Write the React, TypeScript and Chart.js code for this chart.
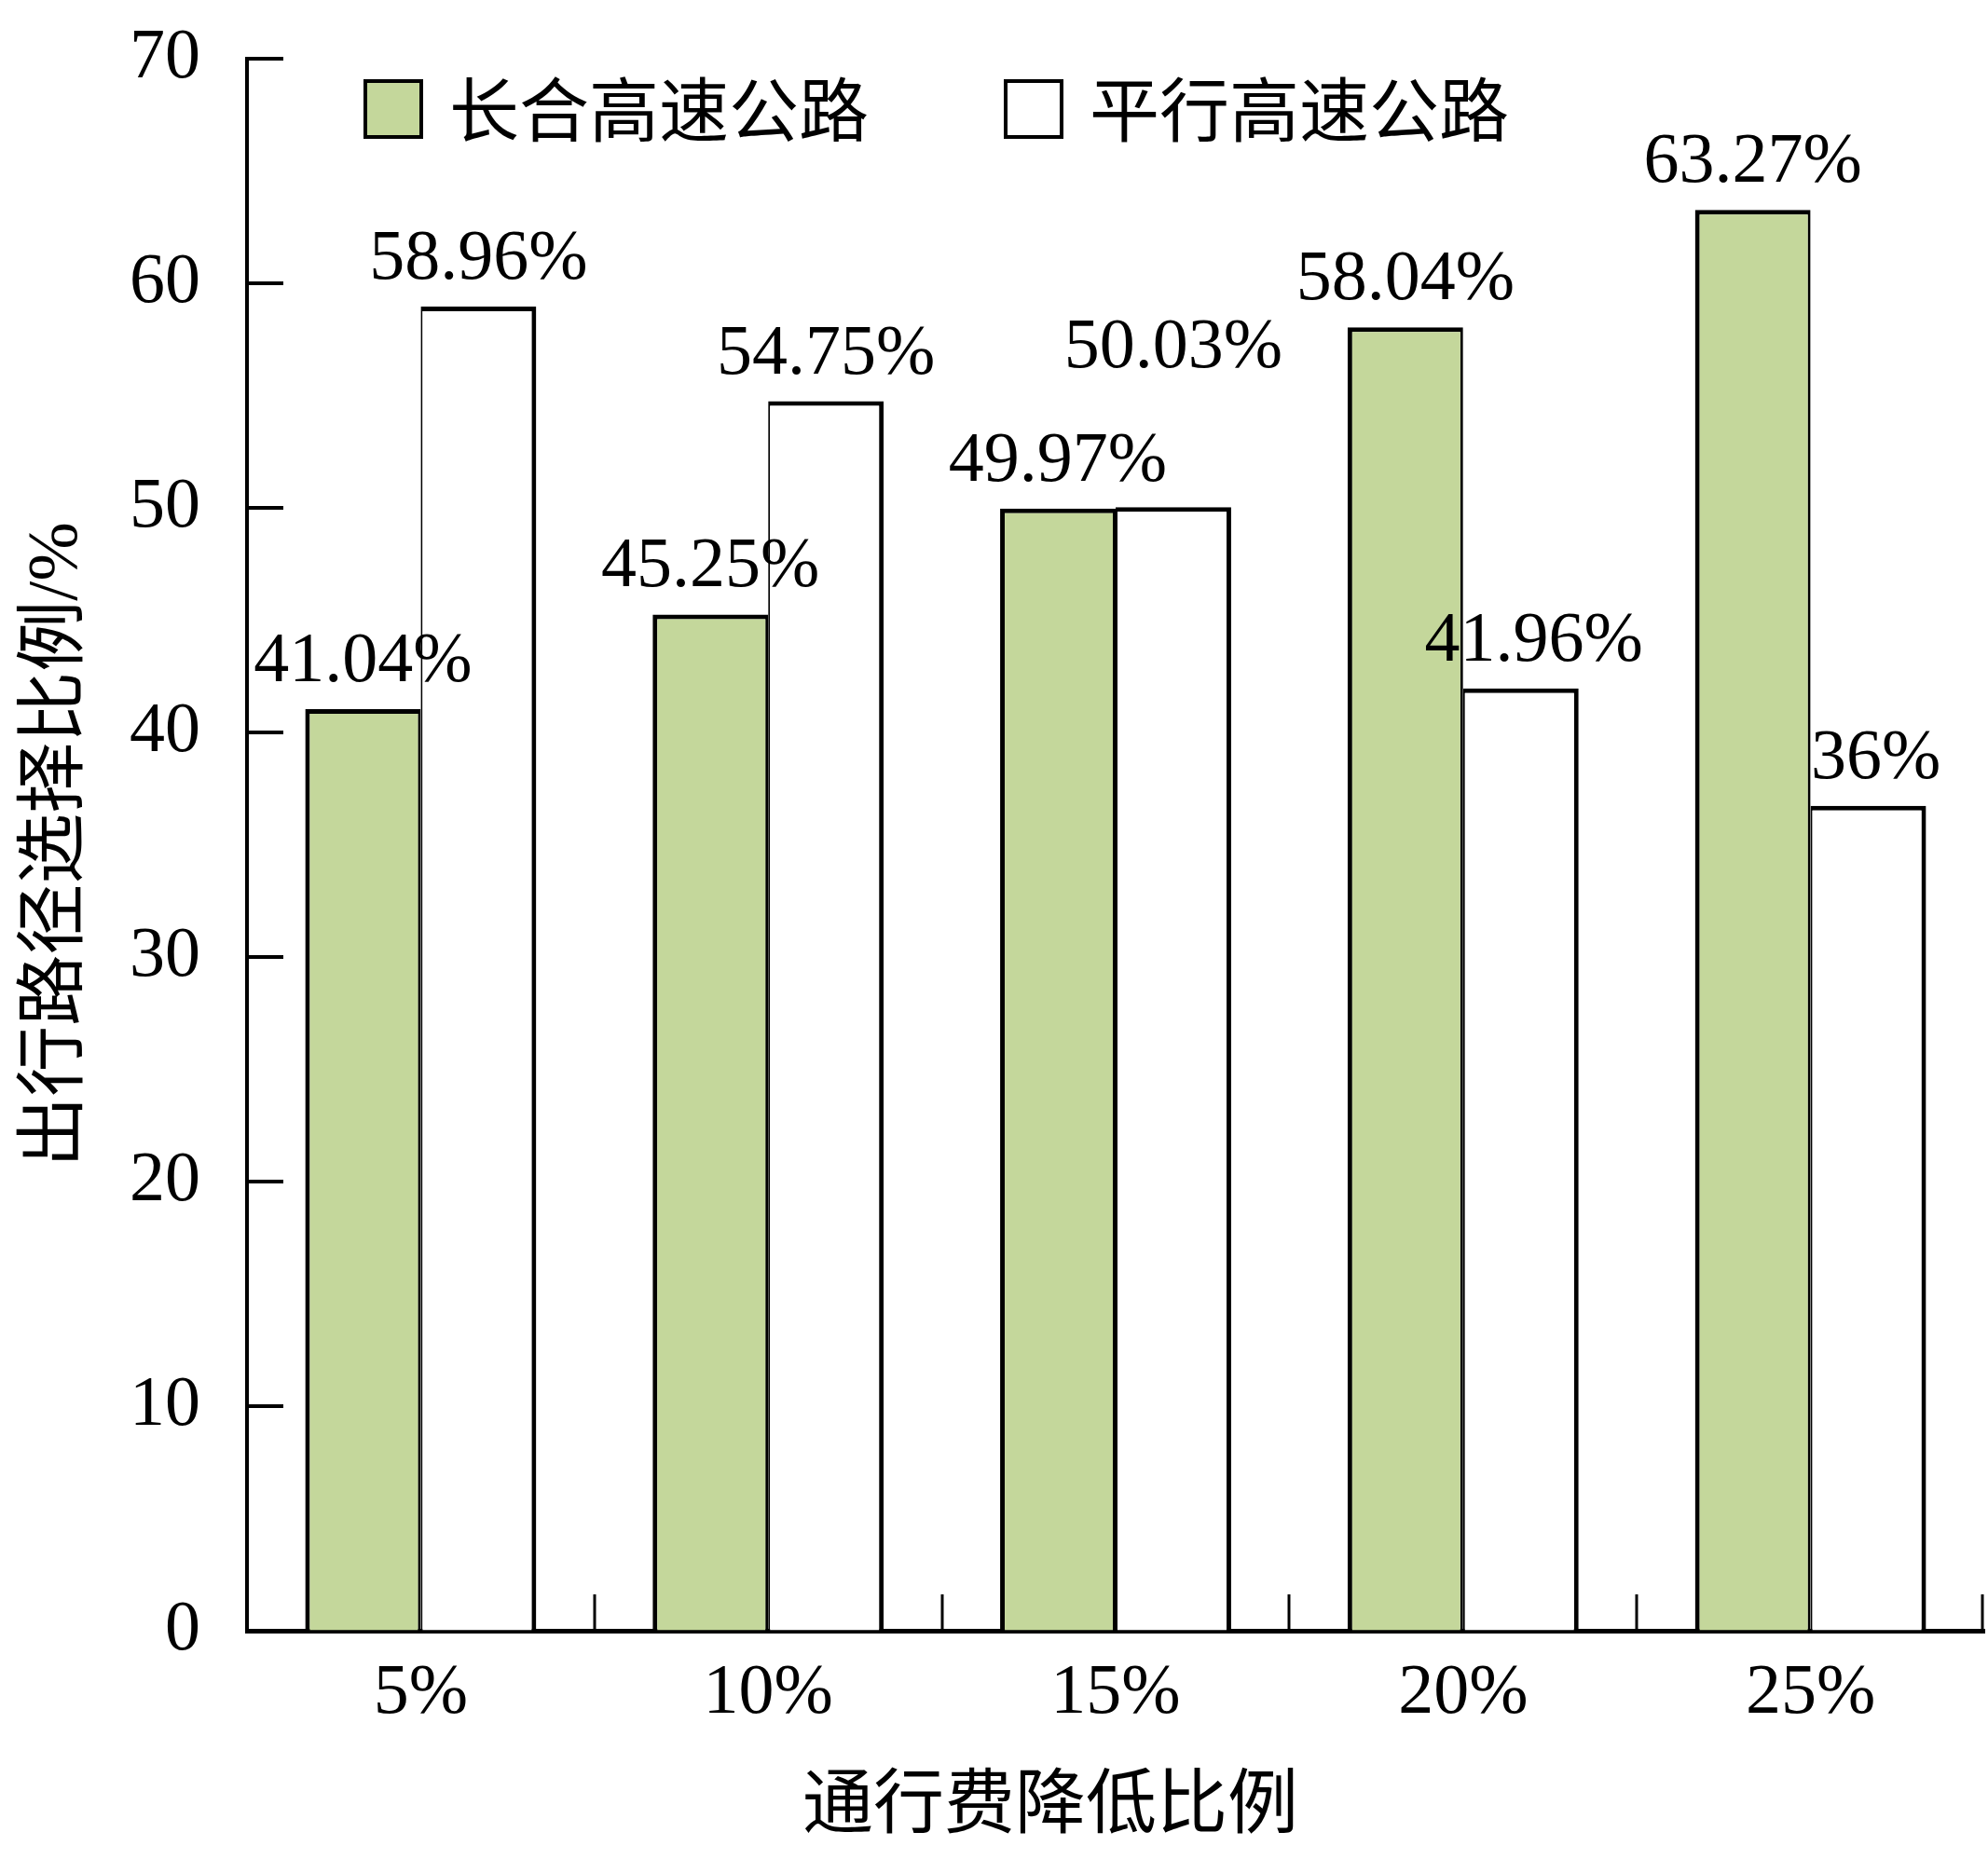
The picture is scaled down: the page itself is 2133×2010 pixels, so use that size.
import React, { useEffect, useRef } from "react";
import { Chart, registerables } from "chart.js";

Chart.register(...registerables);

// ---- data ----
const categories = ["5%", "10%", "15%", "20%", "25%"];
const seriesNames = ["长合高速公路", "平行高速公路"];
const changheValues = [41.04, 45.25, 49.97, 58.04, 63.27];
const parallelValues = [58.96, 54.75, 50.03, 41.96, 36.73];
const changheLabels = ["41.04%", "45.25%", "49.97%", "58.04%", "63.27%"];
const parallelLabels = ["58.96%", "54.75%", "50.03%", "41.96%", "36%"];
const yMin = 0;
const yMax = 70;
const yStep = 10;
const xTitle = "通行费降低比例";
const yTitle = "出行路径选择比例/%";

// ---- styles ----
const W = 2133;
const H = 2010;
const GREEN = "#C4D79B";
const NUM_FONT = "'Liberation Serif', 'Times New Roman', serif";
const CJK_FONT = "'Noto Sans CJK SC', 'Noto Sans CJK JP', sans-serif";
const MIX_FONT = "'Liberation Serif', 'Noto Sans CJK SC', serif";

const labelTexts = [changheLabels, parallelLabels];
// per-label nudges (dataset, index) -> [dx, extra lift]
const labelNudge: Record<string, [number, number]> = {
  "1-2": [0, 120],
  "1-3": [14, 0],
  "1-4": [8, 0],
};

const decorPlugin = {
  id: "decor",
  afterDatasetsDraw(chart: any) {
    const { ctx, chartArea, scales } = chart;
    const xs = scales.x;
    const ys = scales.y;
    ctx.save();
    ctx.strokeStyle = "#000";
    ctx.lineWidth = 4;
    // inward y ticks
    ys.ticks.forEach((_t: any, i: number) => {
      const py = Math.round(ys.getPixelForTick(i));
      ctx.beginPath();
      ctx.moveTo(chartArea.left, py);
      ctx.lineTo(chartArea.left + 39, py);
      ctx.stroke();
    });
    // inward x boundary ticks
    const step = xs.getPixelForValue(1) - xs.getPixelForValue(0);
    ctx.lineWidth = 3;
    for (let i = 0; i < categories.length; i++) {
      let px = Math.round(xs.getPixelForValue(i) + step / 2);
      if (px > chartArea.right - 2) px = chartArea.right - 2;
      ctx.beginPath();
      ctx.moveTo(px, chartArea.bottom);
      ctx.lineTo(px, chartArea.bottom - 39);
      ctx.stroke();
    }

    // data labels
    ctx.fillStyle = "#000";
    ctx.font = `76px ${NUM_FONT}`;
    ctx.textAlign = "center";
    ctx.textBaseline = "alphabetic";
    chart.data.datasets.forEach((_ds: any, di: number) => {
      const meta = chart.getDatasetMeta(di);
      meta.data.forEach((bar: any, i: number) => {
        const nudge = labelNudge[`${di}-${i}`] || [0, 0];
        ctx.fillText(labelTexts[di][i], bar.x + nudge[0], bar.y - 30 - nudge[1]);
      });
    });

    // legend
    const legendX = [chartArea.left + 127, chartArea.left + 814];
    const boxTop = chartArea.top + 24;
    const boxSize = 60;
    chart.data.datasets.forEach((ds: any, di: number) => {
      const bx = legendX[di];
      ctx.fillStyle = ds.backgroundColor;
      ctx.fillRect(bx, boxTop, boxSize, boxSize);
      ctx.lineWidth = 4;
      ctx.strokeStyle = "#000";
      ctx.strokeRect(bx, boxTop, boxSize, boxSize);
      ctx.fillStyle = "#000";
      ctx.font = `75px ${CJK_FONT}`;
      ctx.textAlign = "left";
      ctx.textBaseline = "middle";
      ctx.fillText(ds.label, bx + 90, boxTop + boxSize / 2);
    });

    // x axis title
    ctx.font = `76px ${CJK_FONT}`;
    ctx.textAlign = "center";
    ctx.textBaseline = "middle";
    ctx.fillStyle = "#000";
    ctx.fillText(xTitle, (chartArea.left + chartArea.right) / 2 - 70, chartArea.bottom + 182);
    ctx.restore();
  },
};

export default function App() {
  const canvasRef = useRef<HTMLCanvasElement | null>(null);

  useEffect(() => {
    const canvas = canvasRef.current;
    if (!canvas) return;
    const chart = new Chart(canvas, {
      type: "bar",
      data: {
        labels: categories,
        datasets: [
          {
            label: seriesNames[0],
            data: changheValues,
            backgroundColor: GREEN,
            borderColor: "#000",
            borderWidth: { top: 5, left: 5, right: 3, bottom: 0 },
            borderSkipped: "start",
            categoryPercentage: 0.665,
            barPercentage: 1,
          },
          {
            label: seriesNames[1],
            data: parallelValues,
            backgroundColor: "#FFFFFF",
            borderColor: "#000",
            borderWidth: { top: 5, left: 2, right: 5, bottom: 0 },
            borderSkipped: "start",
            categoryPercentage: 0.665,
            barPercentage: 1,
          },
        ],
      },
      options: {
        animation: false,
        responsive: false,
        devicePixelRatio: 1,
        layout: { padding: { left: 0, right: 4, top: 63, bottom: 0 } },
        plugins: {
          legend: { display: false },
          tooltip: { enabled: false },
          title: { display: false },
        },
        scales: {
          x: {
            type: "category",
            offset: true,
            grid: { display: true, drawOnChartArea: false, drawTicks: false, tickLength: 0 },
            border: { display: true, color: "#000", width: 5 },
            ticks: {
              color: "#000",
              font: { family: NUM_FONT, size: 76 },
              padding: 22,
              maxRotation: 0,
              autoSkip: false,
            },
            afterFit(scale: any) {
              scale.height = 260;
            },
          },
          y: {
            min: yMin,
            max: yMax,
            grid: {
              display: true,
              drawOnChartArea: false,
              drawTicks: true,
              tickLength: 50,
              tickColor: "rgba(0,0,0,0)",
            },
            border: { display: true, color: "#000", width: 4 },
            ticks: {
              stepSize: yStep,
              color: "#000",
              font: { family: NUM_FONT, size: 76 },
              padding: 0,
            },
            title: {
              display: true,
              text: yTitle,
              color: "#000",
              font: { family: MIX_FONT, size: 76 },
              padding: { top: 16, bottom: 0 },
            },
            afterFit(scale: any) {
              scale.width = 265;
            },
          },
        },
      },
      plugins: [decorPlugin],
    } as any);
    return () => chart.destroy();
  }, []);

  return (
    <div
      style={{
        position: "fixed",
        left: 0,
        top: 0,
        width: W,
        height: H,
        background: "#fff",
      }}
    >
      <canvas ref={canvasRef} width={W} height={H} style={{ width: W, height: H, display: "block" }} />
    </div>
  );
}
